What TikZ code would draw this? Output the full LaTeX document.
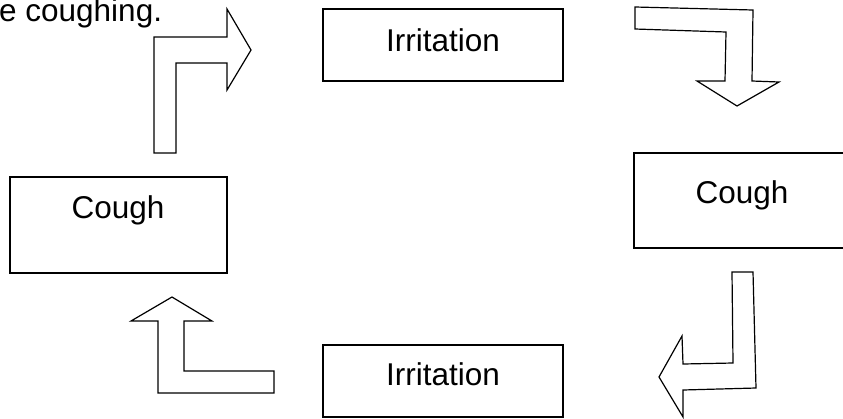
\documentclass[tikz,border=0pt]{standalone}
\usepackage{fontspec}
\setmainfont{Liberation Sans}
\begin{document}
\begin{tikzpicture}[x=1pt,y=-1pt,
  box/.style={draw=black, line width=1.2pt, rectangle, inner sep=0pt},
  lbl/.style={inner sep=0pt, anchor=base, font=\fontsize{31.5}{38}\selectfont},
  blockarrow/.style={draw=black, line width=1.2pt, fill=white, line join=miter}]
\useasboundingbox (0,0) rectangle (843,418);

% caption line
\node[lbl, anchor=base west] (caption) at (-1,21) {e coughing.};

% boxes
\node[box, minimum width=240pt, minimum height=72pt] (irrT) at (443,45) {};
\node[lbl] (irrTtext) at (443,51) {Irritation};

\node[box, minimum width=216pt, minimum height=95pt] (coughR) at (742,200.5) {};
\node[lbl] (coughRtext) at (742,203) {Cough};

\node[box, minimum width=240pt, minimum height=72pt] (irrB) at (443,381) {};
\node[lbl] (irrBtext) at (443,385) {Irritation};

\node[box, minimum width=217pt, minimum height=96pt] (coughL) at (118.5,225) {};
\node[lbl] (coughLtext) at (118,218) {Cough};

% bent block arrows
\draw[blockarrow] (154,153) -- (154,37) -- (227,37) -- (227,9) -- (251,50)
  -- (227,90) -- (227,63) -- (176,63) -- (176,153) -- cycle;

\draw[blockarrow] (635,7) -- (753,10) -- (752,81) -- (779,82) -- (737,106)
  -- (697,81) -- (725,81) -- (726,32) -- (635,29) -- cycle;

\draw[blockarrow] (732,272) -- (753,272) -- (756,388) -- (683,390) -- (683,417)
  -- (659,377) -- (682,336) -- (683,364) -- (733,363) -- cycle;

\draw[blockarrow] (158,393) -- (274,393) -- (274,371) -- (184,371) -- (184,321)
  -- (212,321) -- (172,297) -- (131,321) -- (158,321) -- cycle;
\end{tikzpicture}
\end{document}
